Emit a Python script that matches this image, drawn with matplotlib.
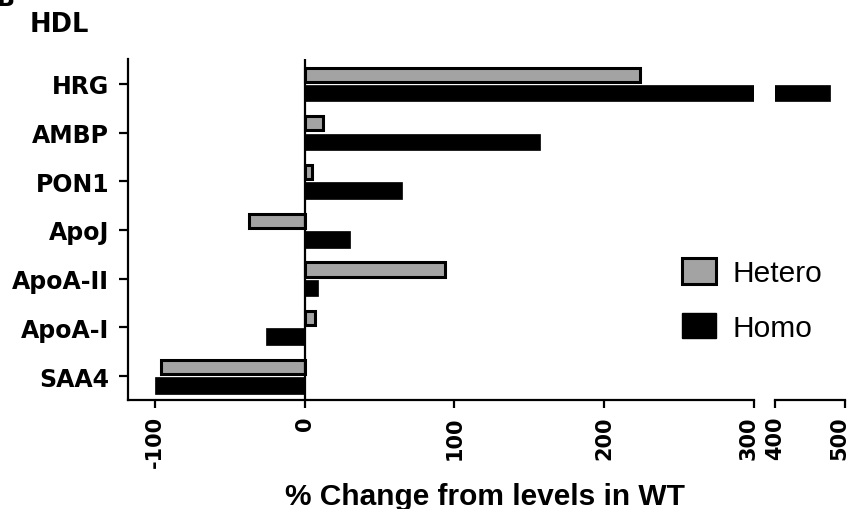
import matplotlib
matplotlib.use("Agg")
import matplotlib.pyplot as plt
from matplotlib.patches import Patch
from matplotlib.transforms import ScaledTranslation
import numpy as np

categories = ["HRG", "AMBP", "PON1", "ApoJ", "ApoA-II", "ApoA-I", "SAA4"]
hetero = [224, 12, 5, -37, 94, 7, -96]
homo = [478, 157, 65, 30, 9, -26, -100]
ticks_left = [-100, 0, 100, 200, 300]
ticks_right = [400, 500]
series_names = ["Hetero", "Homo"]

W, H = 853, 510
fig = plt.figure(figsize=(W / 100, H / 100), dpi=100)

bottom = 1 - 401 / H
top = 1 - 60 / H
ax1 = fig.add_axes([128 / W, bottom, (754 - 128) / W, top - bottom])
ax2 = fig.add_axes([775 / W, bottom, (845 - 775) / W, top - bottom])

y = np.arange(len(categories))
gray = "#a3a3a3"
for ax in (ax1, ax2):
    ax.barh(y - 0.19, hetero, height=0.29, color=gray, edgecolor="black",
            linewidth=2.2, zorder=3)
    ax.barh(y + 0.19, homo, height=0.34, color="black", edgecolor="black",
            linewidth=0.5, zorder=3)
    ax.set_ylim(6.49, -0.51)
    ax.spines["top"].set_visible(False)
    ax.spines["right"].set_visible(False)
    ax.spines["bottom"].set_linewidth(1.6)
    ax.spines["left"].set_linewidth(1.6)
    ax.tick_params(axis="x", direction="out", length=6, width=1.6, pad=5)

tick_font = dict(fontweight="bold", fontsize=15, rotation=90,
                 family="DejaVu Sans")
ax1.set_xlim(-118, 300)
ax1.set_xticks(ticks_left)
ax1.set_xticklabels([str(t) for t in ticks_left], **tick_font)
ax1.set_yticks(y)
ax1.set_yticklabels(categories, fontweight="bold", fontsize=17,
                    family="DejaVu Sans")
ax1.tick_params(axis="y", direction="out", length=6.5, width=1.6, pad=7)
ax1.axvline(0, color="black", linewidth=1.6, zorder=4)

ax2.set_xlim(400, 500)
ax2.set_xticks(ticks_right)
ax2.set_xticklabels([str(t) for t in ticks_right], **tick_font)
ax2.spines["left"].set_visible(False)
ax2.set_yticks([])


def nudge(label, px):
    label.set_transform(label.get_transform()
                        + ScaledTranslation(px / 100, 0, fig.dpi_scale_trans))


nudge(ax1.get_xticklabels()[-1], -5)
nudge(ax2.get_xticklabels()[-1], -6)

fig.text(485 / W, 1 - 505 / H, "% Change from levels in WT", ha="center",
         va="baseline", fontsize=21.5, fontweight="bold",
         family="Liberation Sans")
fig.text(30 / W, 1 - 32 / H, "HDL", ha="left", va="baseline", fontsize=18.5,
         fontweight="bold", family="DejaVu Sans")
fig.text(-3 / W, 1 - 6 / H, "B", ha="left", va="baseline", fontsize=17,
         fontweight="bold", family="DejaVu Sans")

handles = [Patch(facecolor=gray, edgecolor="black", linewidth=2.2),
           Patch(facecolor="black", edgecolor="black")]
fig.legend(handles, series_names, loc="center left",
           bbox_to_anchor=(682 / W, 1 - 301 / H), frameon=False,
           prop={"family": "Liberation Sans", "size": 21.5},
           handlelength=1.13, handleheight=0.92, handletextpad=0.55,
           labelspacing=0.85, borderpad=0, borderaxespad=0)

fig.savefig("out.png", dpi=100)
